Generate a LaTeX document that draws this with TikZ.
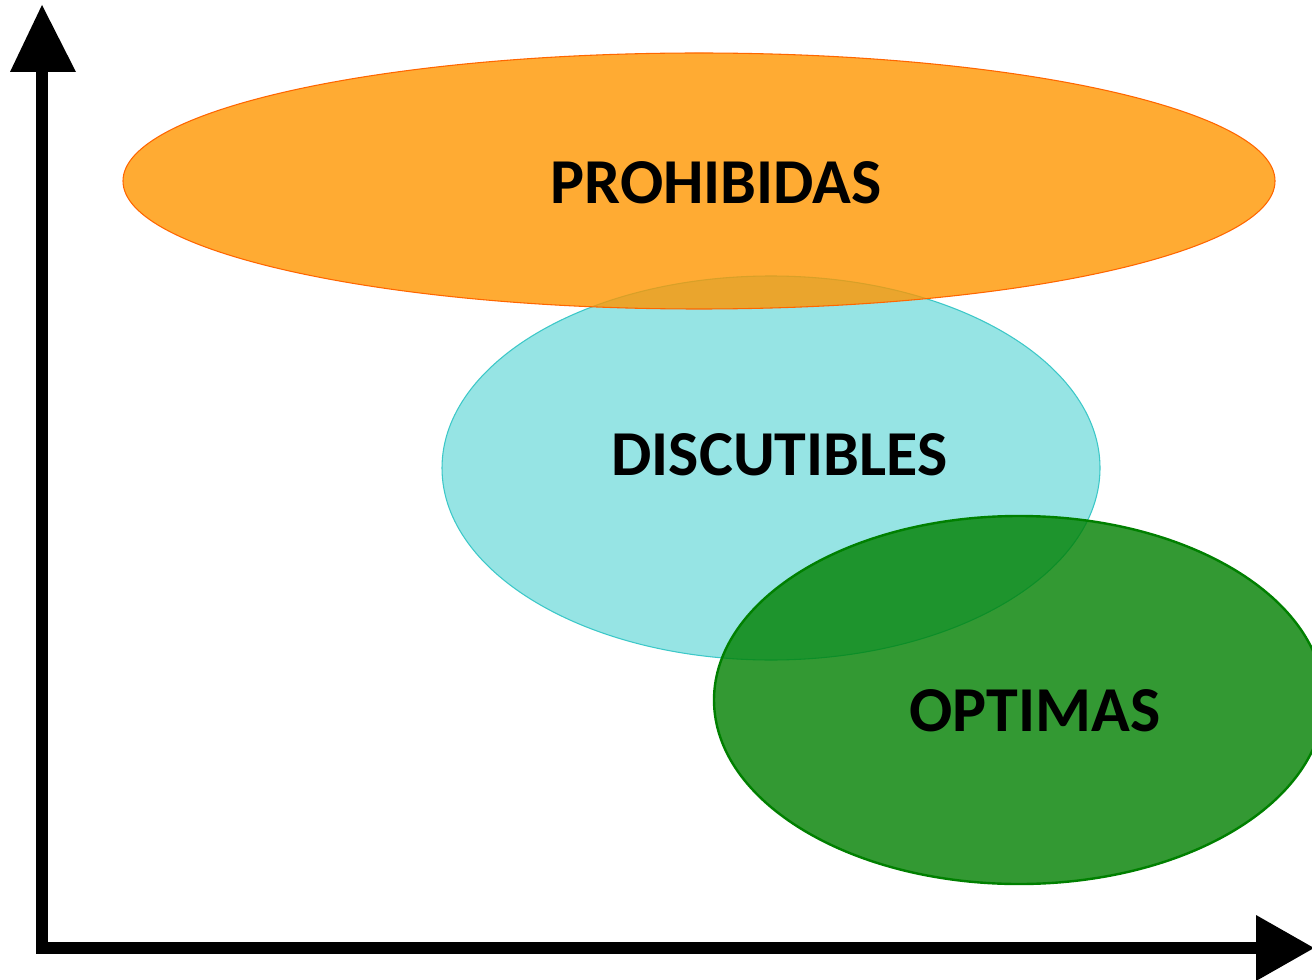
\documentclass[tikz,border=0pt]{standalone}
\usepackage{fontspec}
\setmainfont{Carlito}
\usetikzlibrary{shapes.geometric}
\definecolor{orangefill}{RGB}{255,150,0}
\definecolor{orangeline}{RGB}{255,102,0}
\definecolor{cyanfill}{RGB}{150,228,228}
\definecolor{cyanline}{RGB}{60,200,200}
\definecolor{greenfill}{RGB}{0,128,0}
\tikzset{
  lbl/.style={font=\bfseries\fontsize{48}{52}\selectfont, text=black, inner sep=0pt},
  axisline/.style={line width=9pt, black},
  axishead/.style={fill=black, draw=none},
}
\begin{document}
\begin{tikzpicture}[x=0.75pt,y=-0.75pt]
\useasboundingbox (0,0) rectangle (1312,980);
\fill[white] (0,0) rectangle (1312,980);
% cyan
\draw[cyanline, line width=0.8pt, fill=cyanfill] (771,468) ellipse [x radius=329, y radius=192];
% orange on top
\draw[orangeline, line width=0.8pt, fill=orangefill, fill opacity=0.8] (699,181) ellipse [x radius=576, y radius=128];
% green on top
\draw[greenfill, line width=1.8pt, fill=greenfill, fill opacity=0.8] (1019,700) ellipse [x radius=305, y radius=184];
% labels
\node[lbl] (prohib) at (716,183) {PROHIBIDAS};
\node[lbl] (discut) at (779.5,455) {DISCUTIBLES};
\node[lbl] (optim) at (1035,711) {OPTIMAS};
% axes
\coordinate (origin) at (42,948);
\coordinate (ytop) at (42,68);
\coordinate (xend) at (1260,948);
\draw[axisline] (ytop) -- (origin.center) -- (xend);
\fill[axishead] (10,72) -- (42,5) -- (76,72) -- cycle;
\fill[axishead] (1256,915) -- (1314,948) -- (1256,981) -- cycle;
\end{tikzpicture}
\end{document}
